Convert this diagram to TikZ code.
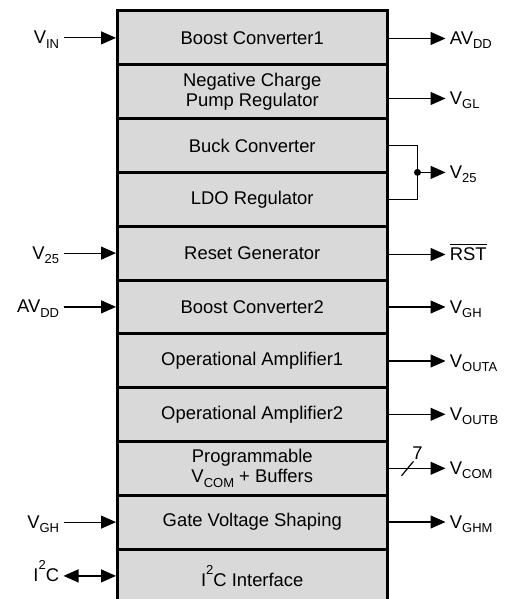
\documentclass[tikz,border=0pt]{standalone}
\usepackage{fontspec}
\setmainfont{Liberation Sans}
\usetikzlibrary{arrows.meta}
\definecolor{blockgray}{RGB}{217,217,217}
\newcommand\subtxt[1]{\raisebox{-2.1pt}{\fontsize{6.5}{7}\selectfont #1}}
\newcommand\suptxt[1]{\raisebox{6.3pt}{\fontsize{6.5}{7}\selectfont #1}}
\tikzset{
    block/.style={draw, line width=1.5pt, fill=blockgray, minimum width=134.75pt, minimum height=26.9pt, inner sep=0pt, align=center},
    wire/.style={line width=0.6pt},
    sig/.style={wire, -{Triangle[length=7.5pt,width=6.5pt]}},
    bisig/.style={wire, {Triangle[length=7.5pt,width=6.5pt]}-{Triangle[length=7.5pt,width=6.5pt]}},
    lbl/.style={inner sep=1pt}
}
\begin{document}
\begin{tikzpicture}[x=0.5pt, y=-0.5pt, font=\fontsize{9.2}{10}\selectfont]
        \useasboundingbox (0,0) rectangle (508,599);
        \foreach \y/\n/\l in {37.9/boost1/{Boost Converter1},91.7/ncp/{Negative Charge\\Pump Regulator},145.5/buck/{Buck Converter},199.3/ldo/{LDO Regulator},253.1/reset/{Reset Generator},306.9/boost2/{Boost Converter2},360.7/opa1/{Operational Amplifier1},414.5/opa2/{Operational Amplifier2},468.3/vcombuf/{Programmable\\V\subtxt{COM} + Buffers},522.1/gvs/{Gate Voltage Shaping},575.9/iic/{I\suptxt{2}C Interface}}{
            \node[block] (\n) at (252.25,\y) {\l};
        }
        \foreach \y/\b/\n/\l in {37.9/boost1/vin/V\subtxt{IN},253.1/reset/vtfi/V\subtxt{25},306.9/boost2/avddi/AV\subtxt{DD},522.1/gvs/vghi/V\subtxt{GH}}{
            \coordinate (\n) at (63.5,\y);
            \node[lbl, anchor=base east] (\n-l) at ([shift={(-2,6)}]\n) {\l};
            \draw[sig] (\n) -- (\b.west |- \n);
        }
        \coordinate (iicin) at (63.5,575.9);
        \node[lbl, anchor=base east] (iicin-l) at ([shift={(-2,6)}]iicin) {I\suptxt{2}C};
        \draw[bisig] (iicin) -- (iic.west |- iicin);
        \foreach \y/\b/\n/\l in {38.5/boost1/avdd/AV\subtxt{DD},98.5/ncp/vgl/V\subtxt{GL},254.5/reset/rst/$\overline{\mbox{RST}}$,307/boost2/vgh/V\subtxt{GH},361/opa1/vouta/V\subtxt{OUTA},414.3/opa2/voutb/V\subtxt{OUTB},468.3/vcombuf/vcom/V\subtxt{COM},522/gvs/vghm/V\subtxt{GHM}}{
            \coordinate (\n) at (445.5,\y);
            \node[lbl, anchor=base west] (\n-l) at ([shift={(2,6)}]\n) {\l};
            \draw[sig] (\b.east |- \n) -- (\n);
        }
        \coordinate (vtfj) at (417.5,172.4);
        \coordinate (vtfo) at (445.5,172.4);
        \node[lbl, anchor=base west] (vtfo-l) at ([shift={(2,6)}]vtfo) {V\subtxt{25}};
        \draw[wire] (buck.east) -| (vtfj) |- (ldo.east);
        \fill (vtfj) circle (1.75pt);
        \draw[sig] (vtfj) -- (vtfo);
        \coordinate (bus) at (407.5,468.3);
        \draw[wire] ([shift={(-6,7.5)}]bus) -- ([shift={(6,-7)}]bus);
        \node[lbl] (busw) at (417.5,453) {7};
    \end{tikzpicture}
\end{document}
